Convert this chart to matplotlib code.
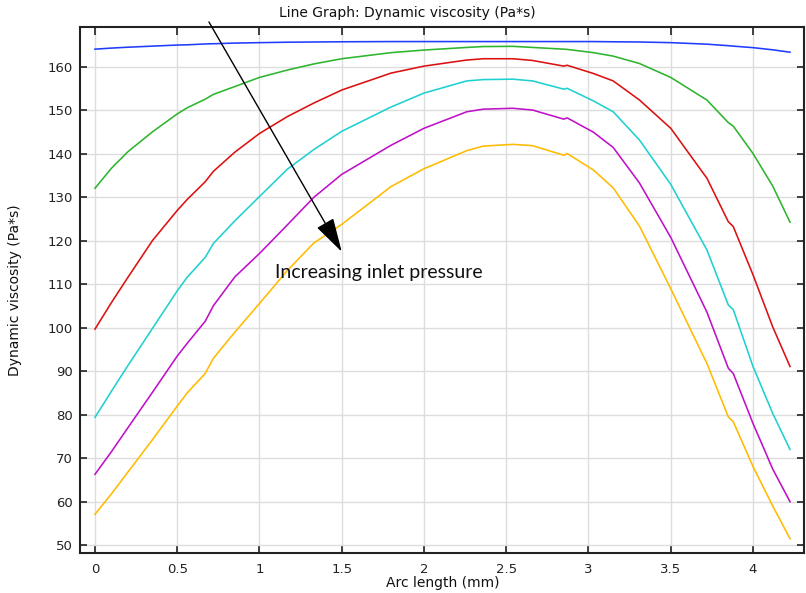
import numpy as np
import matplotlib
matplotlib.use("Agg")
import matplotlib.pyplot as plt
from matplotlib.patches import ArrowStyle

# Arc length (mm)
arc_length = [0.0, 0.1, 0.2, 0.35, 0.5, 0.56, 0.67, 0.72, 0.85, 1.0, 1.17, 1.33, 1.5,
              1.8, 2.0, 2.26, 2.36, 2.54, 2.66, 2.85, 2.87, 3.03, 3.15, 3.31, 3.5,
              3.72, 3.85, 3.88, 4.0, 4.12, 4.225]

visc_blue = [164.1, 164.35, 164.55, 164.8, 165.05, 165.1, 165.3, 165.35, 165.5, 165.6,
             165.7, 165.75, 165.8, 165.85, 165.85, 165.85, 165.85, 165.85, 165.85, 165.85,
             165.85, 165.85, 165.8, 165.75, 165.6, 165.25, 164.9, 164.8, 164.45, 163.95, 163.4]
visc_green = [132.1, 136.7, 140.5, 145.1, 149.2, 150.6, 152.6, 153.7, 155.5, 157.6,
              159.3, 160.7, 161.9, 163.3, 163.9, 164.5, 164.7, 164.75, 164.5, 164.1,
              164.05, 163.3, 162.5, 160.8, 157.6, 152.4, 147.2, 146.4, 140.1, 132.6, 124.3]
visc_red = [99.7, 105.8, 111.6, 120.1, 127.0, 129.5, 133.6, 136.0, 140.4, 144.7,
            148.6, 151.7, 154.7, 158.6, 160.2, 161.6, 161.9, 161.9, 161.5, 160.2,
            160.4, 158.5, 156.8, 152.4, 145.9, 134.4, 124.4, 123.3, 112.2, 100.2, 91.1]
visc_cyan = [79.4, 85.4, 91.3, 99.9, 108.5, 111.6, 116.2, 119.4, 124.6, 130.2,
             136.5, 141.0, 145.2, 150.8, 154.0, 156.8, 157.1, 157.2, 156.8, 154.9,
             155.1, 152.2, 149.7, 143.2, 133.0, 117.9, 105.25, 104.2, 91.1, 80.3, 72.0]
visc_magenta = [66.3, 71.5, 77.0, 85.2, 93.5, 96.4, 101.5, 105.1, 111.7, 117.1,
                123.7, 130.0, 135.3, 142.0, 145.9, 149.7, 150.3, 150.5, 150.1, 148.0,
                148.3, 145.0, 141.5, 133.3, 120.8, 103.6, 90.7, 89.5, 78.0, 67.5, 60.0]
visc_yellow = [57.1, 61.8, 66.8, 74.3, 82.0, 85.0, 89.5, 93.0, 99.0, 105.6,
               113.2, 119.5, 123.8, 132.5, 136.6, 140.75, 141.8, 142.2, 141.9, 139.7,
               140.1, 136.3, 132.2, 123.4, 109.0, 91.8, 79.5, 78.4, 68.1, 59.0, 51.5]

series = [visc_blue, visc_green, visc_red, visc_cyan, visc_magenta, visc_yellow]
colors = ["#1f3cff", "#2db52d", "#dd1010", "#1fd0d0", "#c010c8", "#ffbb00"]

x_ticks = [0, 0.5, 1, 1.5, 2, 2.5, 3, 3.5, 4]
x_tick_labels = ["0", "0.5", "1", "1.5", "2", "2.5", "3", "3.5", "4"]
y_ticks = [50, 60, 70, 80, 90, 100, 110, 120, 130, 140, 150, 160]

W, H = 806, 593
fig = plt.figure(figsize=(W / 100, H / 100), dpi=100)
ax = fig.add_axes([80 / W, (H - 553) / H, (804 - 80) / W, (553 - 27) / H])

for vals, c in zip(series, colors):
    ax.plot(arc_length, vals, color=c, lw=1.15, solid_joinstyle="round")

ax.set_xlim(-0.091, 4.31)
ax.set_ylim(48.2, 169.2)
ax.set_xticks(x_ticks)
ax.set_xticklabels(x_tick_labels)
ax.set_yticks(y_ticks)
ax.grid(True, color="#dddddd", lw=1.0)
ax.set_axisbelow(True)
ax.tick_params(direction="in", top=True, right=True, length=5, width=1.2,
               labelsize=9.5, colors="#222222", pad=5)
ax.tick_params(axis="x", length=6, pad=7)
for s in ax.spines.values():
    s.set_linewidth(1.5)
    s.set_color("#222222")

# arrow
ax.annotate("", xy=(1.5, 117.5), xytext=(0.693, 170.35), annotation_clip=False,
            arrowprops=dict(arrowstyle=ArrowStyle("-|>", head_length=1.07, head_width=0.3),
                            mutation_scale=20, color="black", lw=1.0,
                            shrinkA=0, shrinkB=0))
ax.text(1.094, 111.4, "Increasing inlet pressure", fontsize=14, family="Lato",
        va="baseline", ha="left", color="#111111")

fig.text(407 / W, 1 - 13 / H, "Line Graph: Dynamic viscosity (Pa*s)", ha="center",
         va="center", fontsize=10, color="#111111")
fig.text(443 / W, 1 - 583 / H, "Arc length (mm)", ha="center", va="center",
         fontsize=10, color="#111111")
fig.text(15 / W, 1 - 290 / H, "Dynamic viscosity (Pa*s)", ha="center", va="center",
         rotation=90, fontsize=10, color="#111111")

fig.savefig("out.png", dpi=100)
